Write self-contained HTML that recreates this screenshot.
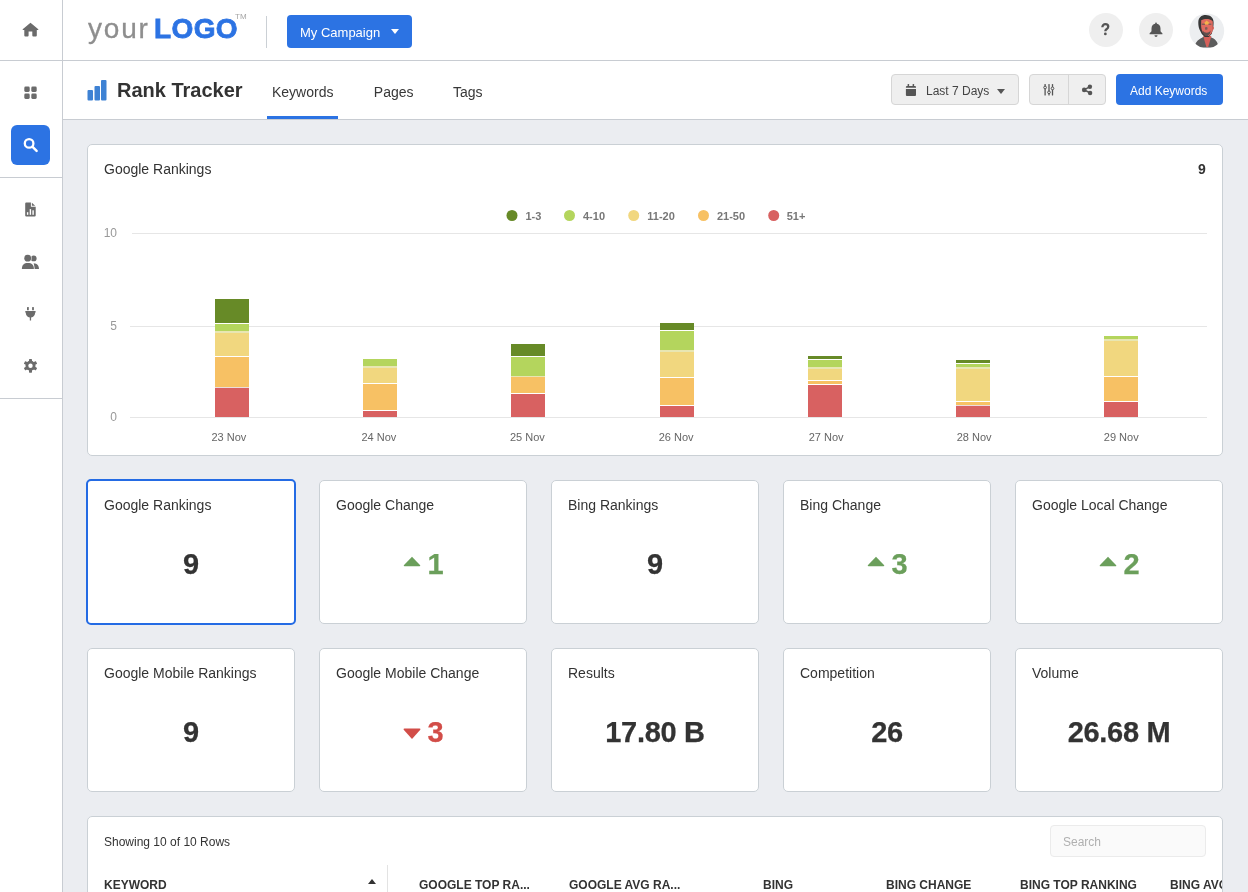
<!DOCTYPE html>
<html><head><meta charset="utf-8">
<style>
*{box-sizing:border-box;margin:0;padding:0}
html,body{width:1248px;height:892px;overflow:hidden}
body{-webkit-font-smoothing:antialiased;background:#ebedf1;font-family:"Liberation Sans",sans-serif;color:#333;position:relative}
.a{position:absolute;white-space:nowrap;line-height:1}
.sb{position:absolute;left:0;top:0;width:63px;height:892px;background:#fff;border-right:1px solid #c8ccd2}
.top{position:absolute;left:0;top:0;width:1248px;height:61px;background:#fff;border-bottom:1px solid #c8ccd2}
.sub{position:absolute;left:63px;top:61px;width:1185px;height:59px;background:#fff;border-bottom:1px solid #c8ccd2}
.hr{position:absolute;left:0;width:62px;height:1px;background:#c8ccd2}
.card{position:absolute;background:#fff;border:1px solid #cad0d5;border-radius:5px}
.ct{position:absolute;left:16px;top:17.2px;font-size:14px;line-height:1;color:#333;white-space:nowrap}
.cv{position:absolute;left:0;width:100%;top:69px;text-align:center;font-size:29px;letter-spacing:-0.3px;-webkit-text-stroke:0.25px currentColor;font-weight:bold;line-height:1;color:#333;white-space:nowrap}
.tri{display:inline-block;margin-right:7px;vertical-align:7.3px}
.dn .tri{vertical-align:2.8px}
.up{color:#6b9f5b}.dn{color:#d24d48}
.lg{top:211px;font-size:11px;font-weight:bold;color:#777}
.yl{right:1131px;font-size:12px;color:#999}
.xl{top:431.7px;font-size:11px;color:#666}
.th{position:absolute;top:878px;font-size:12px;font-weight:bold;line-height:1;color:#333;white-space:nowrap}
</style></head><body><div id="root" style="position:absolute;left:0;top:0;width:1248px;height:892px;will-change:transform">

<!-- top bar -->
<div class="top"></div>
<div class="sb"></div>
<div class="sub"></div>
<div style="position:absolute;left:0;top:60px;width:63px;height:1px;background:#c8ccd2"></div>

<!-- logo -->
<div class="a" style="left:88px;top:14.9px;font-size:28px;color:#8e8e8e;letter-spacing:1.8px;-webkit-text-stroke:0.3px #8e8e8e">your</div>
<div class="a" style="left:154px;top:15px;font-size:28px;font-weight:bold;color:#2c73e3;letter-spacing:0.4px;-webkit-text-stroke:0.8px #2c73e3">LOGO</div>
<div class="a" style="left:235px;top:13.2px;font-size:8px;color:#a5a5a5">TM</div>
<div style="position:absolute;left:266px;top:16px;width:1px;height:32px;background:#cbd0d5"></div>

<!-- campaign -->
<div style="position:absolute;left:287px;top:15px;width:125px;height:33px;background:#2c73e3;border-radius:4px"></div>
<div class="a" style="left:300px;top:26px;font-size:13px;color:#fff">My Campaign</div>
<svg style="position:absolute;left:391px;top:29px" width="8" height="5"><path d="M0 0H8L4 5Z" fill="#fff"/></svg>

<!-- header right -->
<div style="position:absolute;left:1089px;top:13px;width:34px;height:34px;border-radius:50%;background:#efefef"></div>
<svg style="position:absolute;left:1101px;top:23.2px" width="9" height="13" viewBox="0 0 9 13"><path d="M1.35 4.3C1.35 2.3 2.7 1.2 4.35 1.2C6.05 1.2 7.25 2.3 7.25 3.8C7.25 5.4 6.05 5.9 5.15 6.5C4.45 7 4.35 7.5 4.35 8.3" fill="none" stroke="#555" stroke-width="2.3"/><circle cx="4.35" cy="10.9" r="1.4" fill="#555"/></svg>
<div style="position:absolute;left:1139px;top:13px;width:34px;height:34px;border-radius:50%;background:#efefef"></div>
<svg style="position:absolute;left:1149px;top:22px" width="14" height="16" viewBox="0 0 14 16"><g fill="#555"><circle cx="7" cy="1.5" r="0.9"/><path d="M7 1.8C4.2 1.8 2.5 3.8 2.5 6.6V8.8C2.5 9.8 1.7 10.5 0.6 11.2V12.2H13.4V11.2C12.3 10.5 11.5 9.8 11.5 8.8V6.6C11.5 3.8 9.8 1.8 7 1.8Z"/><path d="M5.5 13.2H8.5C8.5 14.1 7.8 14.9 7 14.9S5.5 14.1 5.5 13.2Z"/></g></svg>
<svg style="position:absolute;left:1189px;top:13px" width="36" height="36" viewBox="0 0 36 36">
<defs><clipPath id="av"><circle cx="17.8" cy="17.8" r="17.4"/></clipPath></defs>
<circle cx="17.8" cy="17.8" r="17.4" fill="#eceef0"/>
<g clip-path="url(#av)">
<path d="M5.5 34.5c0.8-5 3-7.5 7-9.5l2.5-1.5h5.5l3 1.5c3 1.5 5.5 4 6 9.5z" fill="#5c5c5c"/>
<path d="M14.2 23l3.2 11 1.8 0 3.2-11z" fill="#d6605a"/>
<path d="M9.3 9.5c0-5 3-7.5 7.5-7.5s7.8 2.8 7.8 7.2c0 3-0.3 5-0.8 7l-1 4.5-3 3.2h-4l-3-3-2.3-4.5c-0.9-2.3-1.2-4.5-1.2-6.9z" fill="#383838"/>
<path d="M12.2 7.2c2.2-1.2 4.8-1.5 7-1.2 2.2 0.3 3.8 1.5 4.6 2.6v6.8c0.2 1.8-0.5 3.5-1.5 5l-2.3 2.6h-3.4l-2.6-3c-1.2-2-1.9-4.6-1.9-7.4z" fill="#e06b60"/>
<path d="M23.6 13.5c1.2-0.2 1.6 0.8 1.3 2.2l-1.3 2z" fill="#d9625b"/>
<path d="M13.5 17.5c1.5 1.5 2.5 2.2 4.2 2.2s2.6-0.7 4-2.2l-0.8 3.2-2.2 2.4h-2.6l-2.2-2.4z" fill="#4a4a4a" opacity=".85"/>
<path d="M16 14.5c0.8-0.7 2-0.7 2.6 0.2l-0.4 2c-0.8 0.3-1.6 0.2-2.2-0.3z" fill="#555" opacity=".7"/>
<path d="M15 10.2l2.6-2.6 3 2.4-1.3 1.4h-3z" fill="#f2b24a"/>
<path d="M12.8 11.2h3.2M19.4 11.2h3" stroke="#555" stroke-width="0.9"/>
</g></svg>

<!-- sidebar icons -->
<svg style="position:absolute;left:22px;top:22px" width="17" height="15" viewBox="0 0 17 15"><path d="M8.5 0.8L0.7 7.2Q0.3 7.9 1.1 7.9H2.3V13.6Q2.3 14.6 3.3 14.6H5.6Q6.6 14.6 6.6 13.6V9.5H10.3V13.6Q10.3 14.6 11.3 14.6H13.8Q14.8 14.6 14.8 13.6V7.9H15.9Q16.7 7.9 16.3 7.2Z" fill="#6b6b6b"/></svg>
<svg style="position:absolute;left:24px;top:86px" width="14" height="14" viewBox="0 0 14 14"><g fill="#6b6b6b"><rect x="0.3" y="0.6" width="5.4" height="5.3" rx="1.3"/><rect x="7.3" y="0.6" width="5.4" height="5.3" rx="1.3"/><rect x="0.3" y="7.6" width="5.4" height="5.3" rx="1.3"/><rect x="7.3" y="7.6" width="5.4" height="5.3" rx="1.3"/></g></svg>
<div style="position:absolute;left:11px;top:125px;width:39px;height:40px;border-radius:6px;background:#2c73e3"></div>
<svg style="position:absolute;left:23px;top:137px" width="15" height="16" viewBox="0 0 15 16"><circle cx="6.1" cy="6.4" r="4.3" fill="none" stroke="#fff" stroke-width="2.3"/><path d="M9.6 9.9L13.6 13.9" stroke="#fff" stroke-width="2.4" stroke-linecap="round"/></svg>
<div class="hr" style="top:177px"></div>
<svg style="position:absolute;left:25px;top:202px" width="11" height="15" viewBox="0 0 11 15"><path d="M1.2 0.6H5.9V4.7H10.7V13.4Q10.7 14.5 9.6 14.5H1.3Q0.2 14.5 0.2 13.4V1.6Q0.2 0.6 1.2 0.6Z" fill="#6b6b6b"/><path d="M6.9 0.7V3.8H10.2Z" fill="#6b6b6b"/><g fill="#fff"><rect x="1.9" y="10.2" width="1.4" height="2.6"/><rect x="4.7" y="7.1" width="1.4" height="5.7"/><rect x="7.4" y="8.3" width="1.4" height="4.5"/></g></svg>
<svg style="position:absolute;left:21px;top:254px" width="19" height="16" viewBox="0 0 19 16"><g fill="#6b6b6b"><circle cx="12.7" cy="4.4" r="2.9"/><path d="M12.6 9.2C16.4 9.4 18 11.6 18 14.9H13.4C13.4 12.6 13.2 10.7 12.6 9.2Z"/></g><g fill="#6b6b6b" stroke="#fff" stroke-width="1.1" paint-order="stroke"><circle cx="6.7" cy="4.2" r="3.4"/><path d="M0.9 14.9C0.9 11 3 9.1 6.9 9.1S12.9 11 12.9 14.9Z"/></g></svg>
<svg style="position:absolute;left:25px;top:306px" width="11" height="15" viewBox="0 0 11 15"><g fill="#6b6b6b"><rect x="2" y="1" width="1.8" height="3.2" rx="0.5"/><rect x="7.1" y="1" width="1.8" height="3.2" rx="0.5"/><path d="M0.3 5.1H10.6V6.5H10.2C10 9.4 8.5 11 6.1 11.5V14.6H4.8V11.5C2.4 11 0.9 9.4 0.7 6.5H0.3Z"/></g></svg>
<svg style="position:absolute;left:23px;top:358px" width="15" height="15" viewBox="-7.5 -7.8 15 15"><g fill="#6b6b6b"><circle r="5"/><rect x="-1.5" y="-6.9" width="3" height="3.5" rx="0.6" transform="rotate(0)"/><rect x="-1.5" y="-6.9" width="3" height="3.5" rx="0.6" transform="rotate(60)"/><rect x="-1.5" y="-6.9" width="3" height="3.5" rx="0.6" transform="rotate(120)"/><rect x="-1.5" y="-6.9" width="3" height="3.5" rx="0.6" transform="rotate(180)"/><rect x="-1.5" y="-6.9" width="3" height="3.5" rx="0.6" transform="rotate(240)"/><rect x="-1.5" y="-6.9" width="3" height="3.5" rx="0.6" transform="rotate(300)"/></g><circle r="2.2" fill="#fff"/></svg>
<div class="hr" style="top:398px"></div>

<!-- sub header -->
<svg style="position:absolute;left:87px;top:80px" width="20" height="21" viewBox="0 0 20 21"><g fill="#3e82d4"><rect x="0.5" y="10" width="5.5" height="10.5" rx="1"/><rect x="7.5" y="6" width="5.5" height="14.5" rx="1"/><rect x="14" y="0" width="5.5" height="20.5" rx="1"/></g></svg>
<div class="a" style="left:117px;top:80px;font-size:20px;font-weight:bold;color:#333">Rank Tracker</div>
<div class="a" style="left:272px;top:85px;font-size:14px;color:#383838">Keywords</div>
<div class="a" style="left:373.8px;top:85px;font-size:14px;color:#383838">Pages</div>
<div class="a" style="left:453px;top:85px;font-size:14px;color:#383838">Tags</div>
<div style="position:absolute;left:267px;top:116px;width:71px;height:3px;background:#2c73e3"></div>

<div style="position:absolute;left:891px;top:74px;width:128px;height:31px;background:#efefef;border:1px solid #d6d6d6;border-radius:4px"></div>
<svg style="position:absolute;left:905px;top:84px" width="12" height="13" viewBox="0 0 12 13"><g fill="#555"><rect x="2.6" y="0" width="1.5" height="2.6" rx="0.5"/><rect x="7.6" y="0" width="1.5" height="2.6" rx="0.5"/><path d="M2 2H9.9Q11 2 11 3.1V3.8H0.9V3.1Q0.9 2 2 2Z"/><path d="M0.9 5H11V10.9Q11 11.9 10 11.9H1.9Q0.9 11.9 0.9 10.9Z"/></g></svg>
<div class="a" style="left:926px;top:85px;font-size:12px;color:#444">Last 7 Days</div>
<svg style="position:absolute;left:997px;top:89px" width="8" height="5"><path d="M0 0H8L4 5Z" fill="#555"/></svg>

<div style="position:absolute;left:1029px;top:74px;width:77px;height:31px;background:#efefef;border:1px solid #d6d6d6;border-radius:4px"></div>
<div style="position:absolute;left:1068px;top:75px;width:1px;height:29px;background:#d6d6d6"></div>
<svg style="position:absolute;left:1043px;top:84px" width="12" height="13" viewBox="0 0 12 13"><g fill="#555"><rect x="1.45" y="0.1" width="1.3" height="11.5" rx="0.5"/><rect x="5.35" y="0.1" width="1.3" height="11.5" rx="0.5"/><rect x="8.85" y="0.1" width="1.3" height="11.5" rx="0.5"/></g><g fill="#efefef" stroke="#555" stroke-width="1"><circle cx="2.1" cy="3.5" r="1.35"/><circle cx="6" cy="8.3" r="1.35"/><circle cx="9.5" cy="4.4" r="1.35"/></g></svg>
<svg style="position:absolute;left:1081px;top:84px" width="12" height="12" viewBox="0 0 12 12"><g fill="#555"><circle cx="8.9" cy="2.7" r="2.2"/><circle cx="3.2" cy="5.9" r="2.3"/><circle cx="9.1" cy="9" r="2.2"/></g><path d="M3.2 5.9L8.9 2.7M3.2 5.9L9.2 9" stroke="#555" stroke-width="1.5"/></svg>

<div style="position:absolute;left:1116px;top:74px;width:107px;height:31px;background:#2c73e3;border-radius:4px"></div>
<div class="a" style="left:1130px;top:85px;font-size:12px;color:#fff">Add Keywords</div>

<!-- chart card -->
<div class="card" style="left:87px;top:144px;width:1136px;height:312px">
  <div class="ct" style="top:16.9px">Google Rankings</div>
  <div class="a" style="right:16px;top:162px;font-size:14px;font-weight:bold"></div>
</div>
<div class="a" style="left:1198px;top:162px;font-size:14px;font-weight:bold;color:#333">9</div>

<!-- CHART -->
<svg style="position:absolute;left:0;top:0" width="1248" height="460" shape-rendering="crispEdges">
<g fill="#e6e6e6"><rect x="132" y="233" width="1075" height="1"/><rect x="130" y="326" width="1077" height="1"/><rect x="130" y="417" width="1077" height="1"/></g>
<rect x="215" y="299" width="34" height="24" fill="#678a27"/>
<rect x="215" y="324" width="34" height="7" fill="#b4d55d"/>
<rect x="215" y="331" width="34" height="2" fill="#e8e6b2"/>
<rect x="215" y="333" width="34" height="23" fill="#f1d77f"/>
<rect x="215" y="357" width="34" height="30" fill="#f7c164"/>
<rect x="215" y="387" width="34" height="1" fill="#ecdcdc"/>
<rect x="215" y="388" width="34" height="29" fill="#d86161"/>
<rect x="363" y="359" width="34" height="7" fill="#b4d55d"/>
<rect x="363" y="366" width="34" height="2" fill="#e8e6b2"/>
<rect x="363" y="368" width="34" height="15" fill="#f1d77f"/>
<rect x="363" y="384" width="34" height="26" fill="#f7c164"/>
<rect x="363" y="411" width="34" height="6" fill="#d86161"/>
<rect x="511" y="344" width="34" height="12" fill="#678a27"/>
<rect x="511" y="357" width="34" height="19" fill="#b4d55d"/>
<rect x="511" y="376" width="34" height="1" fill="#e8e6b2"/>
<rect x="511" y="377" width="34" height="16" fill="#f7c164"/>
<rect x="511" y="394" width="34" height="23" fill="#d86161"/>
<rect x="660" y="323" width="34" height="7" fill="#678a27"/>
<rect x="660" y="331" width="34" height="19" fill="#b4d55d"/>
<rect x="660" y="350" width="34" height="2" fill="#e8e6b2"/>
<rect x="660" y="352" width="34" height="25" fill="#f1d77f"/>
<rect x="660" y="378" width="34" height="27" fill="#f7c164"/>
<rect x="660" y="406" width="34" height="11" fill="#d86161"/>
<rect x="808" y="356" width="34" height="3" fill="#678a27"/>
<rect x="808" y="360" width="34" height="7" fill="#b4d55d"/>
<rect x="808" y="367" width="34" height="2" fill="#e8e6b2"/>
<rect x="808" y="369" width="34" height="11" fill="#f1d77f"/>
<rect x="808" y="381" width="34" height="3" fill="#f7c164"/>
<rect x="808" y="385" width="34" height="32" fill="#d86161"/>
<rect x="956" y="360" width="34" height="3" fill="#678a27"/>
<rect x="956" y="364" width="34" height="3" fill="#b4d55d"/>
<rect x="956" y="367" width="34" height="2" fill="#e8e6b2"/>
<rect x="956" y="369" width="34" height="32" fill="#f1d77f"/>
<rect x="956" y="402" width="34" height="3" fill="#f7c164"/>
<rect x="956" y="405" width="34" height="1" fill="#ecdcdc"/>
<rect x="956" y="406" width="34" height="11" fill="#d86161"/>
<rect x="1104" y="336" width="34" height="3" fill="#b4d55d"/>
<rect x="1104" y="339" width="34" height="2" fill="#e8e6b2"/>
<rect x="1104" y="341" width="34" height="35" fill="#f1d77f"/>
<rect x="1104" y="377" width="34" height="24" fill="#f7c164"/>
<rect x="1104" y="402" width="34" height="15" fill="#d86161"/>
<circle cx="512" cy="215.5" r="5.5" fill="#678a27" shape-rendering="auto"/>
<circle cx="569.5" cy="215.5" r="5.5" fill="#b4d55d" shape-rendering="auto"/>
<circle cx="633.7" cy="215.5" r="5.5" fill="#f1d77f" shape-rendering="auto"/>
<circle cx="703.5" cy="215.5" r="5.5" fill="#f7c164" shape-rendering="auto"/>
<circle cx="773.7" cy="215.5" r="5.5" fill="#d86161" shape-rendering="auto"/>
</svg>
<div class="a lg" style="left:525.5px">1-3</div>
<div class="a lg" style="left:583px">4-10</div>
<div class="a lg" style="left:647.3px">11-20</div>
<div class="a lg" style="left:716.9px">21-50</div>
<div class="a lg" style="left:786.7px">51+</div>
<div class="a yl" style="top:226.8px">10</div>
<div class="a yl" style="top:319.8px">5</div>
<div class="a yl" style="top:410.8px">0</div>
<div class="a xl" style="left:211.5px">23 Nov</div>
<div class="a xl" style="left:361.5px">24 Nov</div>
<div class="a xl" style="left:510px">25 Nov</div>
<div class="a xl" style="left:658.7px">26 Nov</div>
<div class="a xl" style="left:808.7px">27 Nov</div>
<div class="a xl" style="left:956.7px">28 Nov</div>
<div class="a xl" style="left:1103.8px">29 Nov</div>
<!-- /CHART -->

<!-- stat cards -->
<div class="card" style="left:86px;top:479px;width:210px;height:146px;border:2px solid #246be4;border-radius:5px"><div class="ct" style="left:16px;top:17.2px">Google Rankings</div><div class="cv">9</div></div>
<div class="card" style="left:319px;top:480px;width:208px;height:144px"><div class="ct">Google Change</div><div class="cv up"><svg class="tri" width="18" height="11" viewBox="0 0 18 11"><path d="M9 0.8L17.2 9.2Q17.6 10.2 16.4 10.2H1.6Q0.4 10.2 0.8 9.2Z" fill="currentColor"/></svg>1</div></div>
<div class="card" style="left:551px;top:480px;width:208px;height:144px"><div class="ct">Bing Rankings</div><div class="cv">9</div></div>
<div class="card" style="left:783px;top:480px;width:208px;height:144px"><div class="ct">Bing Change</div><div class="cv up"><svg class="tri" width="18" height="11" viewBox="0 0 18 11"><path d="M9 0.8L17.2 9.2Q17.6 10.2 16.4 10.2H1.6Q0.4 10.2 0.8 9.2Z" fill="currentColor"/></svg>3</div></div>
<div class="card" style="left:1015px;top:480px;width:208px;height:144px"><div class="ct">Google Local Change</div><div class="cv up"><svg class="tri" width="18" height="11" viewBox="0 0 18 11"><path d="M9 0.8L17.2 9.2Q17.6 10.2 16.4 10.2H1.6Q0.4 10.2 0.8 9.2Z" fill="currentColor"/></svg>2</div></div>

<div class="card" style="left:87px;top:648px;width:208px;height:144px"><div class="ct">Google Mobile Rankings</div><div class="cv">9</div></div>
<div class="card" style="left:319px;top:648px;width:208px;height:144px"><div class="ct">Google Mobile Change</div><div class="cv dn"><svg class="tri" width="18" height="11" viewBox="0 0 18 11"><path d="M9 10.9L17.3 1.7Q17.7 0.5 16.5 0.5H1.5Q0.3 0.5 0.7 1.7Z" fill="currentColor"/></svg>3</div></div>
<div class="card" style="left:551px;top:648px;width:208px;height:144px"><div class="ct">Results</div><div class="cv">17.80 B</div></div>
<div class="card" style="left:783px;top:648px;width:208px;height:144px"><div class="ct">Competition</div><div class="cv">26</div></div>
<div class="card" style="left:1015px;top:648px;width:208px;height:144px"><div class="ct">Volume</div><div class="cv">26.68 M</div></div>

<!-- table card -->
<div class="card" style="left:87px;top:816px;width:1136px;height:120px;overflow:hidden">
</div>
<div class="a" style="left:104px;top:836px;font-size:12px;color:#333">Showing 10 of 10 Rows</div>
<div style="position:absolute;left:1050px;top:825px;width:156px;height:32px;background:#fafafa;border:1px solid #ebebeb;border-radius:4px"></div>
<div class="a" style="left:1063px;top:836px;font-size:12px;color:#b0b0b0">Search</div>
<div style="position:absolute;left:387px;top:865px;width:1px;height:30px;background:#e3e3e3"></div>
<svg style="position:absolute;left:368px;top:879px" width="8" height="5"><path d="M0 5H8L4 0Z" fill="#333"/></svg>
<div style="position:absolute;left:88px;top:860px;width:1134px;height:40px;overflow:hidden">
<div class="th" style="left:16px;top:19.3px">KEYWORD</div>
<div class="th" style="left:331px;top:19.3px">GOOGLE TOP RA...</div>
<div class="th" style="left:481px;top:19.3px">GOOGLE AVG RA...</div>
<div class="th" style="left:675px;top:19.3px">BING</div>
<div class="th" style="left:798px;top:19.3px">BING CHANGE</div>
<div class="th" style="left:932px;top:19.3px">BING TOP RANKING</div>
<div class="th" style="left:1082px;top:19.3px">BING AVG RANKING</div>
</div>

</div></body></html>
